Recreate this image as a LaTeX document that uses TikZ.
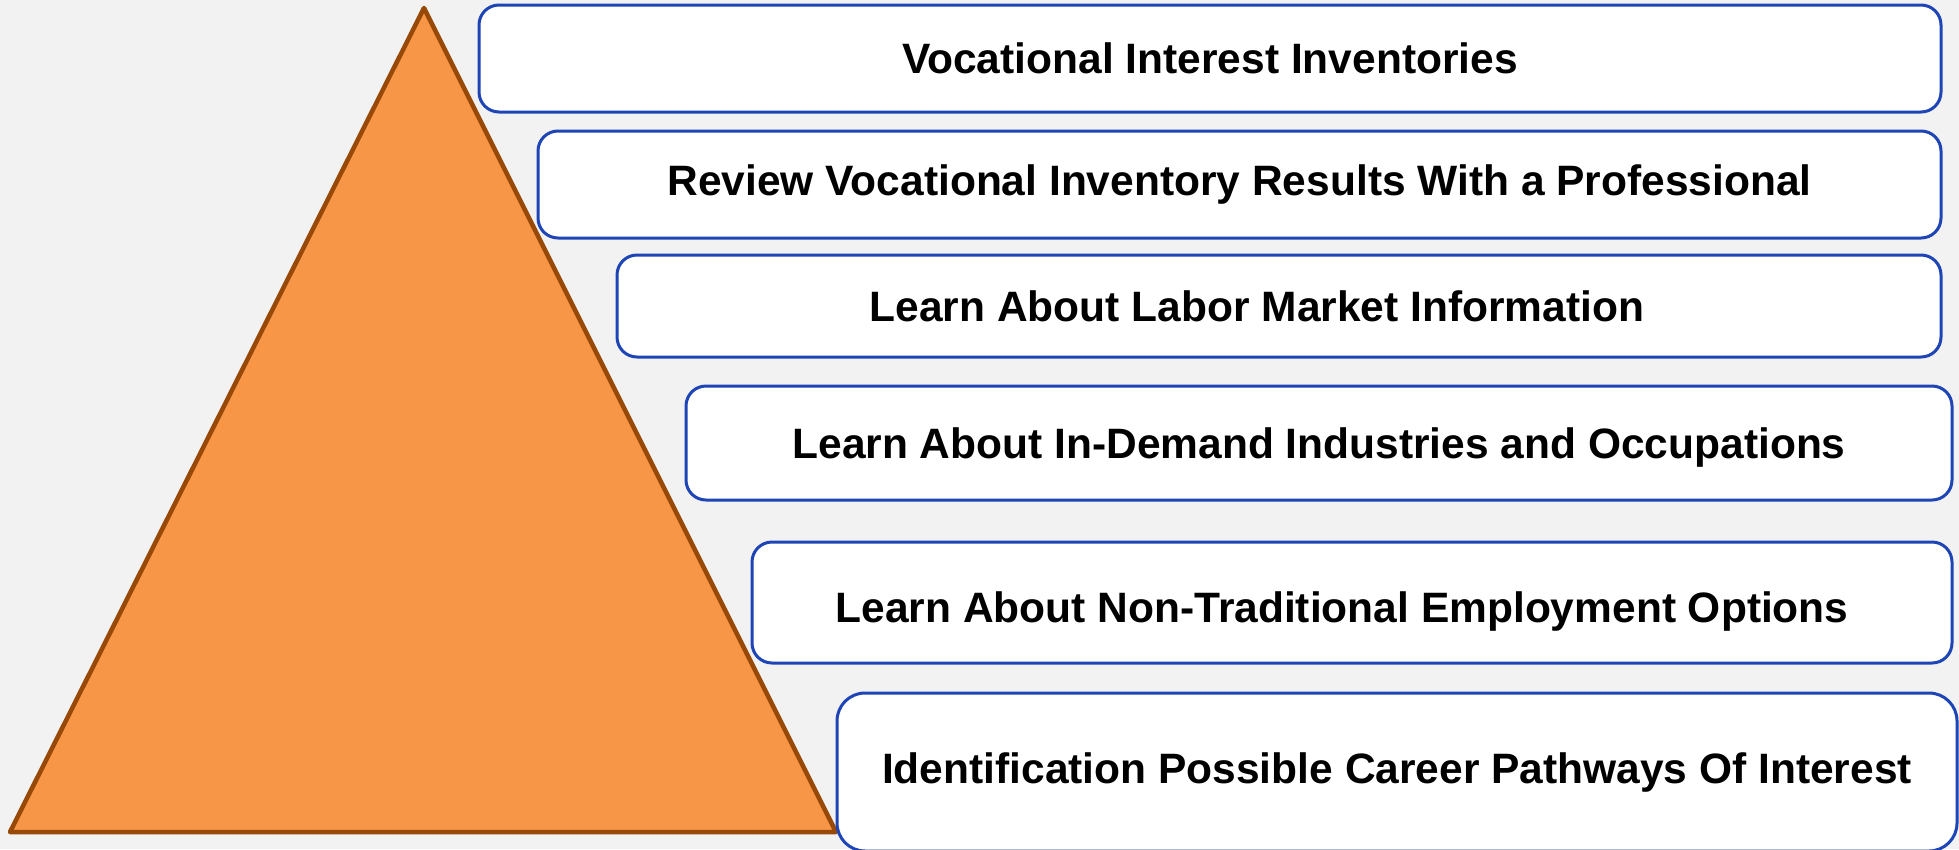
\documentclass[tikz,border=0pt]{standalone}
\usepackage{fontspec}
\setmainfont{Liberation Sans}
\definecolor{pagegray}{HTML}{F2F2F2}
\definecolor{pyrorange}{HTML}{F79646}
\definecolor{pyredge}{HTML}{984807}
\definecolor{boxblue}{HTML}{1E45B5}
\tikzset{stepbox/.style={draw=boxblue, fill=white, line width=3pt, rounded corners=20pt,
    inner sep=0pt, font=\fontsize{42.5}{50}\selectfont\bfseries}}

\begin{document}
\begin{tikzpicture}[x=1pt, y=-1pt]
    \clip (0,0) rectangle (1959,849);
    \fill [pagegray] (0,0) rectangle (1959,849);

    \draw [pyredge, fill=pyrorange, line width=4.5pt, line join=round] (10,832) -- (424,8) -- (836,832) -- cycle;

    \node [stepbox, minimum width=1462, minimum height=107] (inventories) at (1210,58.5) {Vocational Interest Inventories};
    \node [stepbox, minimum width=1403, minimum height=107] (review) at (1239.5,184.5) {Review Vocational Inventory Results With a Professional};
    \node [stepbox, minimum width=1324, minimum height=102] (labor) at (1279,306) {Learn About Labor Market Information\hspace*{44pt}};
    \node [stepbox, minimum width=1266, minimum height=114, text height=39pt, text depth=9pt] (demand) at (1319,443) {Learn About In-Demand Industries and Occupations};
    \node [stepbox, minimum width=1200, minimum height=121, text height=49pt, text depth=9pt] (nontrad) at (1352,602.5) {Learn About Non-Traditional Employment Options\hspace*{20pt}};
    \node [stepbox, minimum width=1120, minimum height=158, rounded corners=28pt] (pathways) at (1397,772) {Identification Possible Career Pathways Of Interest};
  \end{tikzpicture}
\end{document}
